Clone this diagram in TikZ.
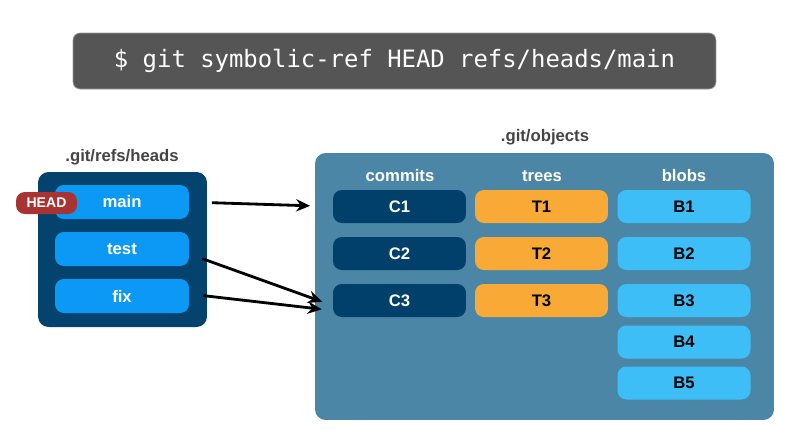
\documentclass[tikz,border=0pt]{standalone}
\usepackage{fontspec}
\setmainfont{Liberation Sans}
\newfontfamily\cmdfont{DejaVu Sans Mono}
\usepackage{xcolor}
\usepackage{tikz}
\usetikzlibrary{arrows.meta,positioning}

\definecolor{cmdgray}{HTML}{555555}
\definecolor{headsnavy}{HTML}{03436E}
\definecolor{refblue}{HTML}{0C98F5}
\definecolor{headred}{HTML}{A83333}
\definecolor{objsteel}{HTML}{4B86A6}
\definecolor{commitnavy}{HTML}{00406A}
\definecolor{treeorange}{HTML}{F9AA36}
\definecolor{blobblue}{HTML}{3DBEF7}
\definecolor{labelgray}{HTML}{444444}

\begin{document}
\begin{tikzpicture}[
        x=0.02cm, y=-0.02cm,
        font=\bfseries\fontsize{9.5}{11}\selectfont,
        >={Stealth[length=8pt,width=7pt]},
        cmdbar/.style={rectangle,fill=cmdgray,draw=black!40,rounded corners=4pt,minimum width=12.86cm,minimum height=1.12cm,text=white,font=\cmdfont\fontsize{13.6}{16}\selectfont},
        folder/.style={rectangle,rounded corners=6pt,inner sep=0pt},
        title/.style={text=labelgray},
        header/.style={text=white},
        ref/.style={rectangle,fill=refblue,rounded corners=5pt,minimum width=2.68cm,minimum height=0.68cm,text=white},
        headtag/.style={rectangle,fill=headred,rounded corners=5pt,minimum width=1.22cm,minimum height=0.44cm,text=white,font=\bfseries\fontsize{8}{9}\selectfont},
        obj/.style={rectangle,rounded corners=5pt,minimum width=2.66cm,minimum height=0.66cm},
        commit/.style={obj,fill=commitnavy,text=white},
        tree/.style={obj,fill=treeorange,text=black},
        blob/.style={obj,fill=blobblue,text=black},
        link/.style={->,line width=1.6pt,shorten <=0.45cm,shorten >=0.45cm}
    ]
        \useasboundingbox (0,0) rectangle (800,441);

        \node[cmdbar] (cmd) at (394.5,61) {\$ git symbolic-ref HEAD refs/heads/main};

        % refs/heads
        \node[folder,fill=headsnavy,minimum width=3.38cm,minimum height=3.1cm] (heads) at (122.5,249.5) {};
        \node[title] (headslabel) at (122,157) {.git/refs/heads};
        \node[ref] (main) at (122,202) {main};
        \node[ref] (test) at (122,249) {test};
        \node[ref] (fix) at (122,296) {fix};
        \node[headtag] (head) at (46.5,203) {HEAD};

        % objects
        \node[folder,fill=objsteel,minimum width=9.18cm,minimum height=5.34cm] (objects) at (544.5,286.5) {};
        \node[title] (objlabel) at (545,137) {.git/objects};
        \node[header] (commits) at (400,176) {commits};
        \node[header] (trees) at (542,176) {trees};
        \node[header] (blobs) at (684,176) {blobs};

        \node[commit] (C1) at (399.5,206.5) {C1};
        \node[commit] (C2) at (399.5,253.5) {C2};
        \node[commit] (C3) at (399.5,300.5) {C3};
        \node[tree] (T1) at (541.5,206.5) {T1};
        \node[tree] (T2) at (541.5,253.5) {T2};
        \node[tree] (T3) at (541.5,300.5) {T3};
        \node[blob] (B1) at (684,206.5) {B1};
        \node[blob] (B2) at (684,253.5) {B2};
        \node[blob] (B3) at (684,300.5) {B3};
        \node[blob] (B4) at (684,342) {B4};
        \node[blob] (B5) at (684,383) {B5};

        \draw[link] (main.east) -- (C1.west);
        \draw[link,shorten <=0.28cm,shorten >=0.22cm] ([yshift=-0.1cm]test.east) -- ([yshift=-0.1cm]C3.west);
        \draw[link,shorten <=0.28cm,shorten >=0.22cm] ([yshift=0.04cm]fix.east) -- ([yshift=-0.2cm]C3.west);
    \end{tikzpicture}
\end{document}
